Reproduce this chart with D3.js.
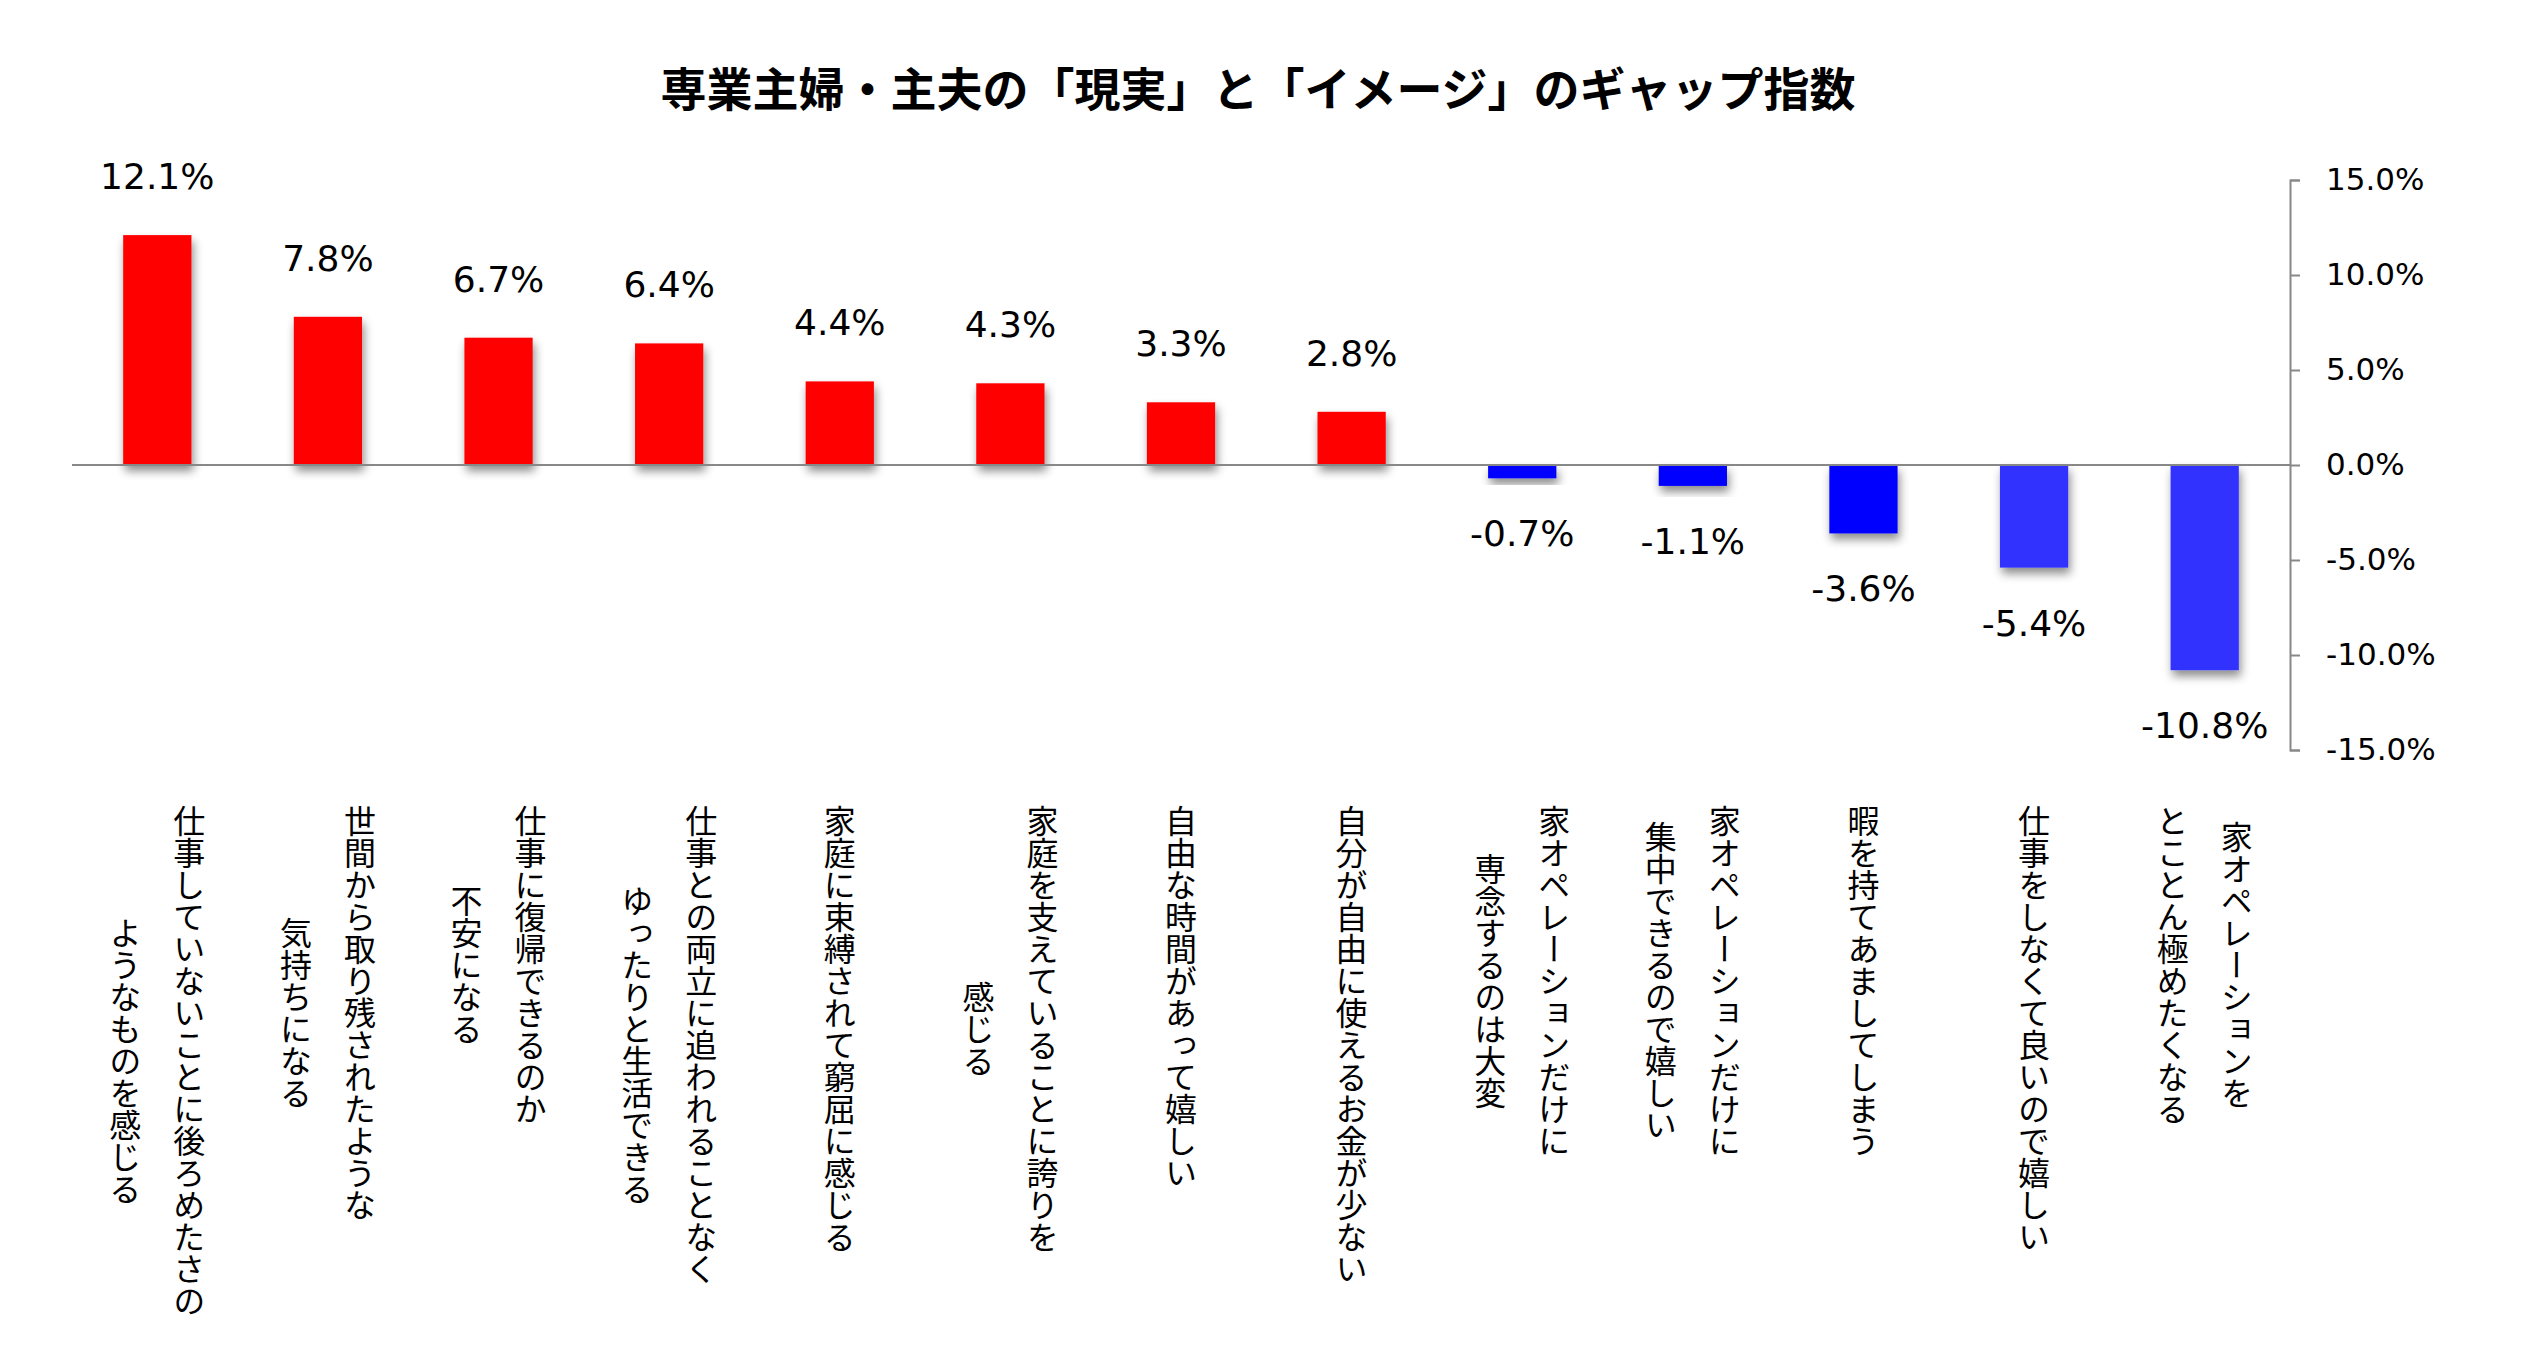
<!DOCTYPE html>
<html>
<head>
<meta charset="utf-8">
<script src="https://cdn.jsdelivr.net/npm/d3@7"></script>
<style>
  body { margin: 0; background: #ffffff; }
  svg { display: block; }
</style>
</head>
<body>
<div id="chart"></div>
<script>
// data
const categories = [
  ["仕事していないことに後ろめたさの", "ようなものを感じる"],
  ["世間から取り残されたような", "気持ちになる"],
  ["仕事に復帰できるのか", "不安になる"],
  ["仕事との両立に追われることなく", "ゆったりと生活できる"],
  ["家庭に束縛されて窮屈に感じる"],
  ["家庭を支えていることに誇りを", "感じる"],
  ["自由な時間があって嬉しい"],
  ["自分が自由に使えるお金が少ない"],
  ["家オペレーションだけに", "専念するのは大変"],
  ["家オペレーションだけに", "集中できるので嬉しい"],
  ["暇を持てあましてしまう"],
  ["仕事をしなくて良いので嬉しい"],
  ["家オペレーションを", "とことん極めたくなる"]
];
const values = [12.1, 7.8, 6.7, 6.4, 4.4, 4.3, 3.3, 2.8, -0.7, -1.1, -3.6, -5.4, -10.8];
const yTicks = [15, 10, 5, 0, -5, -10, -15];
const title = "専業主婦・主夫の「現実」と「イメージ」のギャップ指数";

// bar colours
const barColors = ["#ff0000", "#ff0000", "#ff0000", "#ff0000", "#ff0000", "#ff0000", "#ff0000",
  "#ff0000", "#0000ff", "#0000ff", "#0000ff", "#3333ff", "#3333ff"];

const width = 2546;
const height = 1347;
const plotLeft = 72;
const plotRight = 2290;
const plotTop = 180;
const plotBottom = 750;

// plain hyphen for negatives, like the original
const pct = d => d3.format(".1f")(d).replace("\u2212", "-") + "%";

const svg = d3.select("#chart")
  .append("svg")
  .attr("xmlns", "http://www.w3.org/2000/svg")
  .attr("width", width)
  .attr("height", height)
  .attr("viewBox", `0 0 ${width} ${height}`);

svg.append("rect")
  .attr("width", width)
  .attr("height", height)
  .attr("fill", "#ffffff");

// shadow under the bars
const defs = svg.append("defs");
defs.append("filter")
  .attr("id", "shadow")
  .attr("x", "-50%").attr("y", "-50%")
  .attr("width", "200%").attr("height", "200%")
  .append("feDropShadow")
  .attr("dx", 2)
  .attr("dy", 6)
  .attr("stdDeviation", 5)
  .attr("flood-color", "#000000")
  .attr("flood-opacity", 0.45);

const x = d3.scaleBand()
  .domain(d3.range(values.length))
  .range([plotLeft, plotRight])
  .paddingInner(0.6)
  .paddingOuter(0.3);

const y = d3.scaleLinear()
  .domain([-15, 15])
  .range([plotBottom, plotTop]);

// title
svg.append("text")
  .attr("x", 1258)
  .attr("y", 106)
  .attr("text-anchor", "middle")
  .style("font-family", '"Noto Sans CJK JP", sans-serif')
  .style("font-weight", "bold")
  .style("font-size", "46px")
  .attr("fill", "#000000")
  .text(title);

// bars
svg.append("g")
  .selectAll("rect")
  .data(values)
  .join("rect")
  .attr("x", (d, i) => x(i))
  .attr("y", d => y(Math.max(0, d)))
  .attr("width", x.bandwidth())
  .attr("height", d => Math.abs(y(d) - y(0)))
  .attr("fill", (d, i) => barColors[i])
  .attr("filter", "url(#shadow)");

// zero line
svg.append("line")
  .attr("x1", plotLeft)
  .attr("x2", plotRight)
  .attr("y1", y(0))
  .attr("y2", y(0))
  .attr("stroke", "#888888")
  .attr("stroke-width", 2);

// right axis
const axis = svg.append("g")
  .attr("transform", `translate(${plotRight},0)`)
  .call(d3.axisRight(y)
    .tickValues(yTicks)
    .tickSize(10)
    .tickPadding(26)
    .tickFormat(pct));
axis.select(".domain")
  .attr("stroke", "#888888")
  .attr("stroke-width", 2);
axis.selectAll(".tick line")
  .attr("stroke", "#888888")
  .attr("stroke-width", 2);
axis.selectAll(".tick text")
  .style("font-family", '"DejaVu Sans", Verdana, sans-serif')
  .style("font-size", "31px")
  .attr("fill", "#000000");

// value labels
svg.append("g")
  .selectAll("text")
  .data(values)
  .join("text")
  .attr("x", (d, i) => x(i) + x.bandwidth() / 2)
  .attr("y", d => d >= 0 ? y(d) - 46 : y(d) + 68)
  .attr("text-anchor", "middle")
  .style("font-family", '"DejaVu Sans", Verdana, sans-serif')
  .style("font-size", "36px")
  .attr("fill", "#000000")
  .text(pct);

// category labels, vertical, lines right to left
const labelTop = 805;
const labelSize = 32;
const lineGap = 64;
const labels = svg.append("g")
  .style("font-family", '"Noto Sans CJK JP", sans-serif')
  .style("font-size", labelSize + "px")
  .attr("fill", "#000000");
categories.forEach((lines, i) => {
  const cx = x(i) + x.bandwidth() / 2;
  const longest = d3.max(lines, s => s.length);
  const cy = labelTop + longest * labelSize / 2;
  lines.forEach((line, j) => {
    labels.append("text")
      .attr("x", cx + (lines.length - 1) / 2 * lineGap - j * lineGap)
      .attr("y", cy)
      .attr("text-anchor", "middle")
      .style("writing-mode", "vertical-rl")
      .text(line);
  });
});
</script>
</body>
</html>
